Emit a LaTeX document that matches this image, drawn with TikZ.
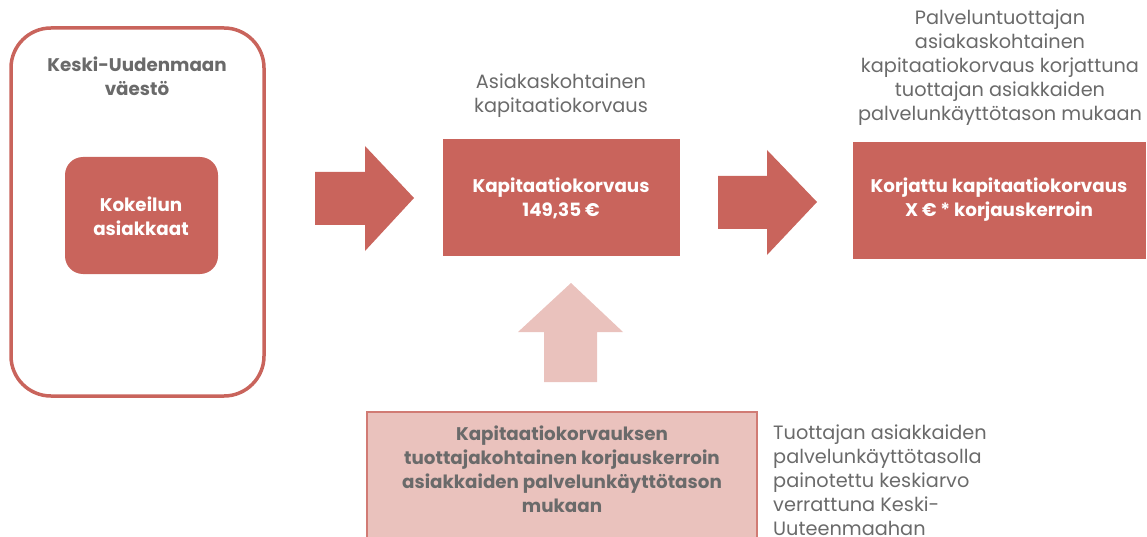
\documentclass[tikz,border=0pt]{standalone}
\usepackage{fontspec}
\setmainfont{Poppins}
\definecolor{brick}{HTML}{C9645C}
\definecolor{pinkish}{HTML}{EAC2BD}
\definecolor{txtgray}{HTML}{6A6A6A}
\tikzset{
  txt/.style={font=\fontsize{19.3}{24}\selectfont, text=txtgray, align=center, inner sep=0pt},
  boldtxt/.style={font=\fontsize{18.3}{24}\selectfont\bfseries, align=center, inner sep=0pt},
}
\begin{document}
\begin{tikzpicture}[x=1pt,y=-1pt]
\useasboundingbox (0,0) rectangle (1147,537);
\clip (0,0) rectangle (1147,537);
% left population box
\draw[brick, line width=3.5pt, rounded corners=40pt] (11,28) rectangle (264,396);
\node[boldtxt, text=txtgray] (pop) at (137,76) {Keski-Uudenmaan\\väestö};
\fill[brick, rounded corners=18pt] (65,157) rectangle (218,274);
\node[boldtxt, text=white] (kok) at (141,216) {Kokeilun\\asiakkaat};
% arrow 1
\fill[brick] (315,172) -- (365,172) -- (365,146) -- (414,198) -- (365,251) -- (365,225) -- (315,225) -- cycle;
% box 2
\fill[brick] (443,139) rectangle (680,256);
\node[boldtxt, text=white] (kap) at (561,198) {Kapitaatiokorvaus\\149,35 €};
\node[txt] (lab2) at (561,96) {Asiakaskohtainen\\kapitaatiokorvaus};
% arrow 2
\fill[brick] (718,176) -- (767,176) -- (767,150) -- (817,202) -- (767,255) -- (767,229) -- (718,229) -- cycle;
% box 3
\fill[brick] (853,142) rectangle (1146,259);
\node[boldtxt, text=white] (kor) at (999,200) {Korjattu kapitaatiokorvaus\\X € * korjauskerroin};
\node[txt] (lab3) at (1000,68) {Palveluntuottajan\\asiakaskohtainen\\kapitaatiokorvaus korjattuna\\tuottajan asiakkaiden\\palvelunkäyttötason mukaan};
% up arrow
\fill[pinkish] (544,382) -- (544,332) -- (518,332) -- (571,283) -- (623,332) -- (597,332) -- (597,382) -- cycle;
% bottom box
\draw[fill=pinkish, draw=brick!85, line width=1.2pt] (367,412) rectangle (757,560);
\node[boldtxt, text=txtgray] (kerr) at (562,469) {Kapitaatiokorvauksen\\tuottajakohtainen korjauskerroin\\asiakkaiden palvelunkäyttötason\\mukaan};
\node[txt, align=left, anchor=west] (desc) at (773,480) {Tuottajan asiakkaiden\\palvelunkäyttötasolla\\painotettu keskiarvo\\verrattuna Keski-\\Uuteenmaahan};
\end{tikzpicture}
\end{document}
